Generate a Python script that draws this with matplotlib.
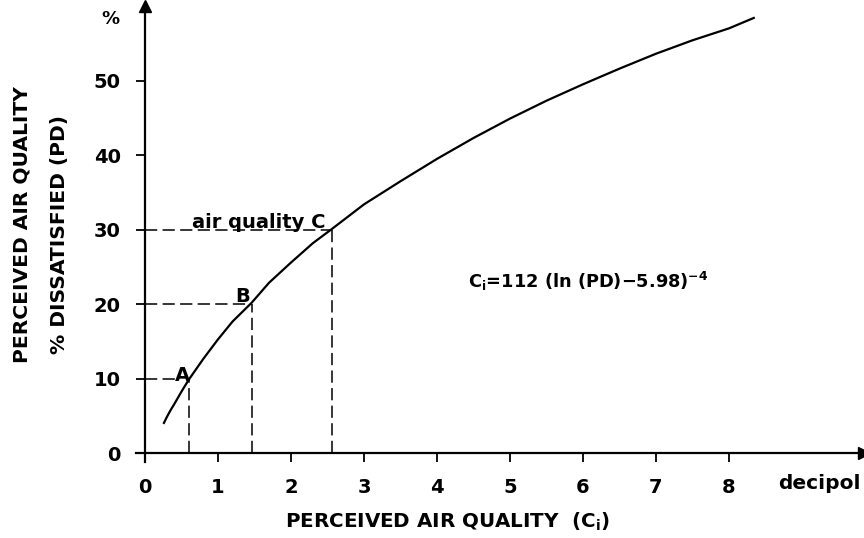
import numpy as np
import matplotlib
matplotlib.use('Agg')
import matplotlib.pyplot as plt

plt.rcParams['font.family'] = ['DejaVu Sans']
plt.rcParams['font.weight'] = 'bold'
plt.rcParams['mathtext.default'] = 'bf'

# curve: perceived air quality (decipol) vs % dissatisfied
ci = [0.26, 0.3, 0.35, 0.4, 0.5, 0.6, 0.7, 0.8, 0.9, 1.0, 1.2, 1.46, 1.7, 2.0,
      2.3, 2.56, 3.0, 3.5, 4.0, 4.5, 5.0, 5.5, 6.0, 6.5, 7.0, 7.5, 8.0, 8.34]
pd_ = [4.1, 4.9, 5.8, 6.6, 8.3, 9.9, 11.3, 12.7, 14.0, 15.3, 17.7, 20.2, 22.9, 25.6,
       28.2, 30.1, 33.4, 36.5, 39.5, 42.3, 44.9, 47.3, 49.5, 51.6, 53.6, 55.4, 57.0, 58.4]

# marked points A, B, C
pts_name = ['A', 'B', 'C']
pts_ci = [0.6, 1.46, 2.56]
pts_pd = [10, 20, 30]
hline_end = [0.42, 1.46, 2.56]

x_ticks = [0, 1, 2, 3, 4, 5, 6, 7, 8]
y_ticks = [0, 10, 20, 30, 40, 50]

fig = plt.figure(figsize=(8.64, 5.38), dpi=100)
ax = fig.add_axes([136 / 864, 76 / 538, 728 / 864, 456 / 538])
ax.set_xlim(-0.123, 9.85)
ax.set_ylim(-1.14, 60.0)

for s in ['top', 'right']:
    ax.spines[s].set_visible(False)
ax.spines['left'].set_position(('data', 0))
ax.spines['bottom'].set_position(('data', 0))
ax.spines['left'].set_linewidth(1.6)
ax.spines['bottom'].set_linewidth(1.6)
ax.plot(1, 0, '>', color='black', ms=8, transform=ax.get_yaxis_transform(), clip_on=False)
ax.plot(0, 1, '^', color='black', ms=8, transform=ax.get_xaxis_transform(), clip_on=False)

ax.set_xticks(x_ticks)
ax.set_yticks(y_ticks)
ax.tick_params(direction='out', length=6.5, width=1.3, labelsize=14, pad=11)
for lab in ax.get_xticklabels() + ax.get_yticklabels():
    lab.set_fontweight('bold')

ax.plot(ci, pd_, color='black', lw=1.6, solid_joinstyle='round')

for n, x, y, xe in zip(pts_name, pts_ci, pts_pd, hline_end):
    ax.plot([0, xe], [y, y], color='black', lw=1.1, ls=(0, (8, 3.5)))
    ax.plot([x, x], [0, y], color='black', lw=1.1, ls=(0, (8, 3.5)))

ax.text(0.51, 9.7, 'A', fontsize=14, ha='center', va='baseline')
ax.text(1.34, 20.3, 'B', fontsize=14, ha='center', va='baseline')
ax.text(1.56, 30.2, 'air quality C', fontsize=14, ha='center', va='baseline')
ax.text(4.42, 22.2, r'C$_\mathbf{i}$=112 (ln (PD)$-$5.98)$^{\mathbf{-4}}$', fontsize=12.8,
        ha='left', va='baseline')

ax.text(-0.48, 58.2, '%', fontsize=13, ha='center', va='center', clip_on=False)
ax.text((778 - 145) / 73, -4.0, 'decipol', fontsize=14.5, ha='left', va='center',
        clip_on=False)

fig.text(285 / 864, 1 - 522 / 538, r'PERCEIVED AIR QUALITY  (C$_\mathbf{i}$)', fontsize=14.3,
         ha='left', va='center')
fig.text(22.5 / 864, 1 - 224.5 / 538, 'PERCEIVED AIR QUALITY', fontsize=14.6, rotation=90,
         ha='center', va='center')
fig.text(59.5 / 864, 1 - 234 / 538, '% DISSATISFIED (PD)', fontsize=14.6, rotation=90,
         ha='center', va='center')

fig.savefig('out.png', dpi=100)
